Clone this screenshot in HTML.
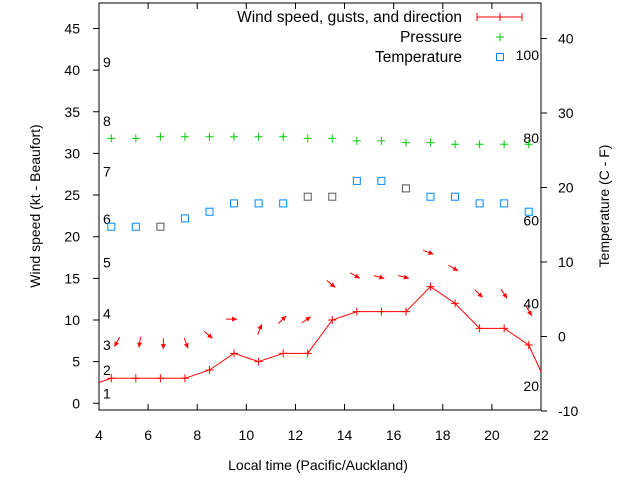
<!DOCTYPE html>
<html><head><meta charset="utf-8"><style>
body{margin:0;background:#fff;}
svg{display:block;font-family:"Liberation Sans",sans-serif;}
</style></head><body>
<svg id="chart" width="640" height="480" viewBox="0 0 640 480" xmlns="http://www.w3.org/2000/svg">
<defs><marker id="ah" markerWidth="6" markerHeight="6" refX="5" refY="2.5" orient="auto" markerUnits="userSpaceOnUse"><path d="M0,0 L5,2.5 L0,5 z" fill="#f00"/></marker></defs>
<g id="axes"></g><g id="marks"></g><g id="legend"></g>
</svg>
<script>
const hours=[4.5,5.5,6.5,7.5,8.5,9.5,10.5,11.5,12.5,13.5,14.5,15.5,16.5,17.5,18.5,19.5,20.5,21.5];
const windSpeed=[3,3,3,3,4,6,5,6,6,10,11,11,11,14,12,9,9,7];
const gusts=[6.8,6.7,6.5,6.6,7.8,10.1,9.5,10.5,10.4,13.9,15,15,15,17.9,15.9,12.7,12.6,10.5];
const windDir=[120,100,90,70,40,0,-70,-45,-35,40,30,15,15,20,30,45,55,60];
const pressure=[31.8,31.8,32,32,32,32,32,32,31.8,31.8,31.5,31.5,31.3,31.3,31.1,31.1,31.1,31.1];
const temperature=[21.2,21.2,21.2,22.2,23,24,24,24,24.8,24.8,26.7,26.7,25.8,24.8,24.8,24,24,23];
const tempShade=[0,0,1,0,0,0,0,0,1,1,0,0,1,0,0,0,0,0];
const xTicks=[4,6,8,10,12,14,16,18,20,22];
const yTicks=[0,5,10,15,20,25,30,35,40,45];
const y2Ticks=[-10,0,10,20,30,40];
const beaufort=[[1,1.2],[2,4],[3,7],[4,10.8],[5,16.9],[6,22.1],[7,27.8],[8,33.9],[9,41]];
const fahr=[20,40,60,80,100];
const X0=99,X1=541,YT=3,YB=410;
const sx=h=>X0+(h-4)*(X1-X0)/18;
const sy=v=>403.3-8.33*v;
const sy2=c=>411-(c+10)*7.45;
const NS="http://www.w3.org/2000/svg";
function mk(p,t,a){const e=document.createElementNS(NS,t);for(const k in a)e.setAttribute(k,a[k]);p.appendChild(e);return e;}
const ax=document.getElementById('axes'),mg=document.getElementById('marks'),lg=document.getElementById('legend');
let f=mk(ax,'rect',{x:X0,y:YT,width:X1-X0,height:YB-YT,fill:'none',stroke:'#000','stroke-width':1});

xTicks.forEach(t=>{const x=sx(t);
mk(ax,'line',{x1:x,y1:YB,x2:x,y2:YB-6,stroke:'#000'});mk(ax,'line',{x1:x,y1:YT,x2:x,y2:YT+6,stroke:'#000'});
const e=mk(ax,'text',{x:x,y:440,'text-anchor':'middle','font-size':14});e.textContent=t;
});
yTicks.forEach(t=>{const y=sy(t);
mk(ax,'line',{x1:X0,y1:y,x2:X0-6,y2:y,stroke:'#000'});
const e=mk(ax,'text',{x:80,y:y+5,'text-anchor':'end','font-size':14});e.textContent=t;
});
y2Ticks.forEach(t=>{const y=sy2(t);
mk(ax,'line',{x1:X1,y1:y,x2:X1+6,y2:y,stroke:'#000'});
const e=mk(ax,'text',{x:558,y:y+5,'font-size':14});e.textContent=t;
});
beaufort.forEach(b=>{const e=mk(ax,'text',{x:103,y:sy(b[1])+5,'font-size':14});e.textContent=b[0];
});
fahr.forEach(F=>{const c=(F-32)*5/9;const e=mk(ax,'text',{x:539,y:sy2(c)+5,'text-anchor':'end','font-size':14});e.textContent=F;
});
let t1=mk(ax,'text',{x:318,y:470,'text-anchor':'middle','font-size':14});t1.textContent='Local time (Pacific/Auckland)';

let t2=mk(ax,'text',{transform:'translate(40,206) rotate(-90)','text-anchor':'middle','font-size':14});t2.textContent='Wind speed (kt - Beaufort)';

let t3=mk(ax,'text',{transform:'translate(609,206) rotate(-90)','text-anchor':'middle','font-size':14});t3.textContent='Temperature (C - F)';

let pts=[[X0,sy(2.5)]].concat(hours.map((h,i)=>[sx(h),sy(windSpeed[i])])).concat([[X1,sy(3.8)]]);
let wl=mk(mg,'polyline',{points:pts.map(p=>p.join(',')).join(' '),fill:'none',stroke:'#f00','stroke-width':1});

hours.forEach((h,i)=>{const x=sx(h),y=sy(windSpeed[i]);
const g=mk(mg,'path',{d:`M${x-4},${y}h8M${x},${y-4}v8`,stroke:'#f00','stroke-width':1});

const a=windDir[i]*Math.PI/180,hx=x+3,hy=sy(gusts[i]);
const ar=mk(mg,'line',{x1:hx-11*Math.cos(a),y1:hy-11*Math.sin(a),x2:hx,y2:hy,stroke:'#f00','stroke-width':1,'marker-end':'url(#ah)'});

const px=x,py=sy(pressure[i]);
const p=mk(mg,'path',{d:`M${px-4},${py}h8M${px},${py-4}v8`,stroke:'#0c0','stroke-width':1});

const ty=sy(temperature[i]);
const s=mk(mg,'rect',{x:x-3.5,y:ty-3.5,width:7,height:7,fill:'none',stroke:tempShade[i]?'#555':'#08f','stroke-width':1});
});
[['Wind speed, gusts, and direction',17],['Pressure',37],['Temperature',57]].forEach((l,i)=>{
const e=mk(lg,'text',{x:462,y:l[1]+5,'text-anchor':'end','font-size':15.5});e.textContent=l[0];
});
mk(lg,'path',{d:'M477,17h45M477,13v8M500,13v8M522,13v8',stroke:'#f00'});
mk(lg,'path',{d:'M496,37h8M500,33v8',stroke:'#0c0'});
mk(lg,'rect',{x:496.5,y:53.5,width:7,height:7,fill:'none',stroke:'#08f'});
</script>
</body></html>
